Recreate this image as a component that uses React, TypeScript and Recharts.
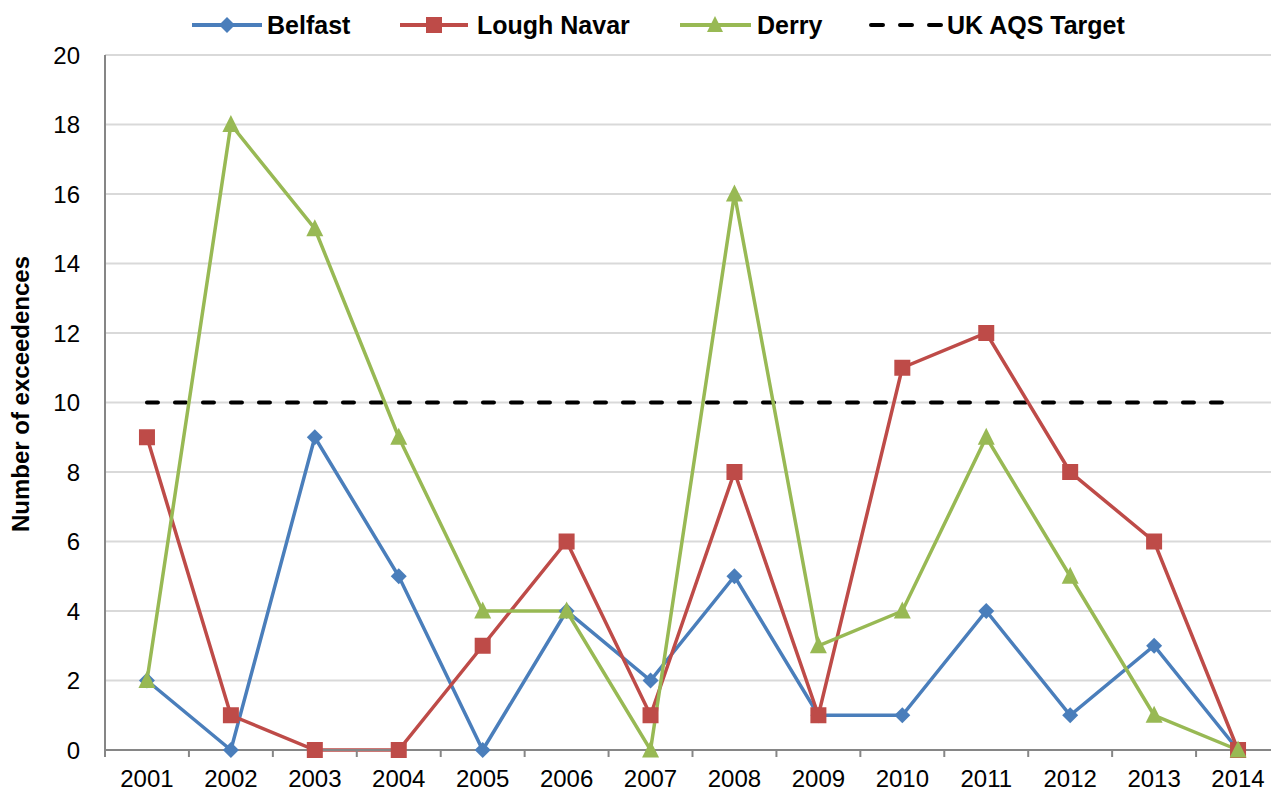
import React from 'react';
import { LineChart, Line, XAxis, YAxis, CartesianGrid } from 'recharts';

const years = ['2001', '2002', '2003', '2004', '2005', '2006', '2007', '2008', '2009', '2010', '2011', '2012', '2013', '2014'];
const belfast = [2, 0, 9, 5, 0, 4, 2, 5, 1, 1, 4, 1, 3, 0];
const loughNavar = [9, 1, 0, 0, 3, 6, 1, 8, 1, 11, 12, 8, 6, 0];
const derry = [2, 18, 15, 9, 4, 4, 0, 16, 3, 4, 9, 5, 1, 0];
const target = [10, 10, 10, 10, 10, 10, 10, 10, 10, 10, 10, 10, 10, 10];
const yTicks = [0, 2, 4, 6, 8, 10, 12, 14, 16, 18, 20];

const data = years.map((y, i) => ({
  year: y,
  belfast: belfast[i],
  loughNavar: loughNavar[i],
  derry: derry[i],
  target: target[i],
}));

const BLUE = '#4a7ebb';
const RED = '#be4b48';
const GREEN = '#98b954';
const AXIS = '#868686';

const W = 1280;
const H = 795;
const YW = 105;
const band = (W - YW) / years.length;

const Diamond = ({ cx, cy, fill, s = 8 }: any) => (
  <path d={`M${cx},${cy - s}L${cx + s},${cy}L${cx},${cy + s}L${cx - s},${cy}Z`} fill={fill} />
);
const Square = ({ cx, cy, fill, s = 8 }: any) => (
  <rect x={cx - s} y={cy - s} width={s * 2} height={s * 2} fill={fill} />
);
const Triangle = ({ cx, cy, fill, s = 8 }: any) => (
  <path d={`M${cx},${cy - s - 1}L${cx + s},${cy + s - 1}L${cx - s},${cy + s - 1}Z`} fill={fill} />
);

const font = 'Liberation Sans, Arial, sans-serif';

const XTick = (props: any) => {
  const { x, payload } = props;
  const bx = x - band / 2;
  return (
    <g>
      <line x1={bx} x2={bx} y1={750} y2={757} stroke={AXIS} strokeWidth={2} />
      <text x={x} y={787} textAnchor="middle" fontSize={24} fill="#000" fontFamily={font}>
        {payload.value}
      </text>
    </g>
  );
};

const YTick = (props: any) => {
  const { y, payload } = props;
  return (
    <text x={80} y={y + 8.5} textAnchor="end" fontSize={24} fill="#000" fontFamily={font}>
      {payload.value}
    </text>
  );
};

const Legend = () => (
  <svg width={1271} height={50} style={{ position: 'absolute', left: 0, top: 0, pointerEvents: 'none' }}>
    <line x1={192} x2={262} y1={25} y2={25} stroke={BLUE} strokeWidth={4} />
    <Diamond cx={227} cy={25} fill={BLUE} s={8} />
    <text x={267} y={34} fontSize={25} fontWeight="bold" fontFamily={font}>Belfast</text>
    <line x1={400} x2={468} y1={25} y2={25} stroke={RED} strokeWidth={4} />
    <Square cx={434} cy={25} fill={RED} s={8} />
    <text x={477} y={34} fontSize={25} fontWeight="bold" fontFamily={font}>Lough Navar</text>
    <line x1={680} x2={751} y1={25} y2={25} stroke={GREEN} strokeWidth={4} />
    <Triangle cx={715} cy={25} fill={GREEN} s={8} />
    <text x={757} y={34} fontSize={25} fontWeight="bold" fontFamily={font}>Derry</text>
    <line x1={871} x2={941} y1={25} y2={25} stroke="#000" strokeWidth={4} strokeDasharray="12 17" strokeLinecap="round" />
    <text x={947} y={34} fontSize={25} fontWeight="bold" fontFamily={font}>UK AQS Target</text>
  </svg>
);

export default function App() {
  return (
    <div style={{ position: 'absolute', left: 0, top: 0, width: 1271, height: H, overflow: 'hidden', background: '#fff' }}>
      <LineChart width={W} height={H} data={data} margin={{ top: 55, right: 0, bottom: 0, left: 0 }}>
        <CartesianGrid horizontal vertical={false} stroke="#d9d9d9" strokeWidth={2} />
        <XAxis
          dataKey="year"
          scale="band"
          height={45}
          stroke={AXIS}
          strokeWidth={2}
          tickLine={false}
          tick={<XTick />}
          interval={0}
        />
        <YAxis
          width={YW}
          domain={[0, 20]}
          ticks={yTicks}
          stroke={AXIS}
          strokeWidth={2}
          tickLine={false}
          tick={<YTick />}
          interval={0}
        />
        <Line
          dataKey="target"
          stroke="#000"
          strokeWidth={4}
          strokeDasharray="11 17"
          strokeLinecap="round"
          dot={false}
          activeDot={false}
          isAnimationActive={false}
        />
        <Line
          dataKey="belfast"
          stroke={BLUE}
          strokeWidth={3.5}
          dot={(p: any) => <Diamond key={`b${p.index}`} cx={p.cx} cy={p.cy} fill={BLUE} s={8} />}
          activeDot={false}
          isAnimationActive={false}
        />
        <Line
          dataKey="loughNavar"
          stroke={RED}
          strokeWidth={3.5}
          dot={(p: any) => <Square key={`l${p.index}`} cx={p.cx} cy={p.cy} fill={RED} s={8} />}
          activeDot={false}
          isAnimationActive={false}
        />
        <Line
          dataKey="derry"
          stroke={GREEN}
          strokeWidth={3.5}
          dot={(p: any) => <Triangle key={`d${p.index}`} cx={p.cx} cy={p.cy} fill={GREEN} s={8.5} />}
          activeDot={false}
          isAnimationActive={false}
        />
        <text
          x={20}
          y={394}
          transform="rotate(-90 20 394)"
          textAnchor="middle"
          dominantBaseline="central"
          fontSize={24}
          fontWeight="bold"
          fontFamily={font}
        >
          Number of exceedences
        </text>
      </LineChart>
      <Legend />
    </div>
  );
}
